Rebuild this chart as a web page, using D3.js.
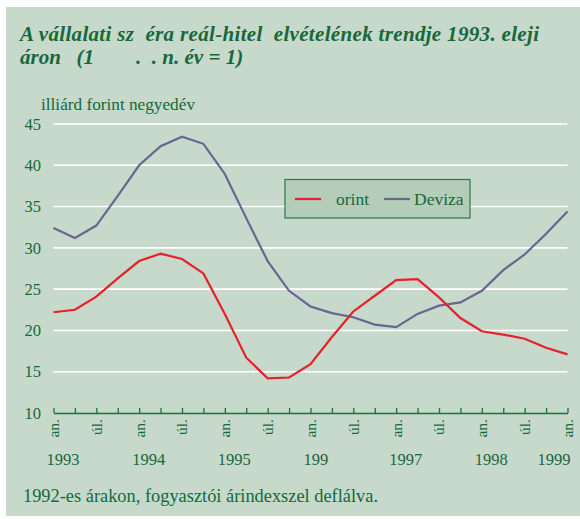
<!DOCTYPE html>
<html>
<head>
<meta charset="utf-8">
<script src="https://cdn.jsdelivr.net/npm/d3@7"></script>
<style>
  body { margin: 0; background: #fff; }
  text { font-family: "Liberation Serif", "Times New Roman", serif; fill: #17683b; }
</style>
</head>
<body>
<div id="root"></div>
<script>
//DATA
const quarters = d3.range(25); // 1993 jan .. 1999 jan, quarterly
const quarterLabels = ["an.", "", "úl.", "", "an.", "", "úl.", "", "an.", "", "úl.", "", "an.", "", "úl.", "", "an.", "", "úl.", "", "an.", "", "úl.", "", "an."];
const years = ["1993", "1994", "1995", "199", "1997", "1998", "1999"];
const forint = [22.2, 22.5, 24.1, 26.3, 28.4, 29.3, 28.65, 26.9, 22.0, 16.7, 14.2, 14.3, 15.9, 19.2, 22.3, 24.2, 26.1, 26.2, 24.0, 21.5, 19.9, 19.5, 19.0, 17.9, 17.1];
const deviza = [32.4, 31.2, 32.7, 36.3, 40.0, 42.3, 43.45, 42.6, 38.95, 33.6, 28.4, 24.8, 22.9, 22.1, 21.6, 20.7, 20.4, 22.0, 23.0, 23.4, 24.8, 27.3, 29.2, 31.7, 34.4];
const yTicks = [10, 15, 20, 25, 30, 35, 40, 45];

//DIMENSIONS
let width = 580, height = 519;

let svg = d3.select('#root')
  .append('svg')
  .attr('width', width)
  .attr('height', height);

//BACKGROUND PANEL
svg.append('rect')
  .attr('x', 6).attr('y', 7)
  .attr('width', width - 6).attr('height', 509)
  .attr('fill', '#c6d9ca');

//SCALES
const x = d3.scaleLinear().domain([0, 24]).range([53.5, 567.5]);
const y = d3.scaleLinear().domain([10, 45]).range([413, 124]);

//TITLE
const title = svg.append('text')
  .attr('xml:space', 'preserve')
  .style('white-space', 'pre')
  .attr('font-size', 21)
  .attr('font-weight', 'bold')
  .attr('font-style', 'italic');
title.append('tspan').attr('x', 20).attr('y', 41)
  .attr('textLength', 519)
  .text('A vállalati sz  éra reál-hitel  elvételének trendje 1993. eleji');
title.append('tspan').attr('x', 20).attr('y', 63.5)
  .text('áron   (1        .  . n. év = 1)');

//Y LABEL
svg.append('text')
  .attr('x', 41).attr('y', 110)
  .attr('font-size', 17.5)
  .attr('textLength', 154)
  .attr('lengthAdjust', 'spacingAndGlyphs')
  .text('illiárd forint negyedév');

//GRIDLINES
svg.append('g')
  .selectAll('line')
  .data(yTicks.filter(d => d > 10))
  .join('line')
  .attr('x1', x(0)).attr('x2', x(24))
  .attr('y1', d => y(d)).attr('y2', d => y(d))
  .attr('stroke', '#fff')
  .attr('stroke-width', 1.6);

//Y AXIS
const yAxis = svg.append('g')
  .attr('transform', 'translate(41,0)')
  .call(d3.axisLeft(y).tickValues(yTicks).tickSize(0).tickPadding(0));
yAxis.select('.domain').remove();
yAxis.selectAll('text')
  .attr('font-size', 16.5)
  .attr('font-family', null)
  .style('fill', '#17683b');

//X AXIS
const xAxis = svg.append('g')
  .attr('transform', `translate(0,${y(10)})`)
  .call(d3.axisBottom(x).tickValues(quarters).tickSize(-5).tickSizeOuter(0).tickFormat(''));
xAxis.select('.domain').attr('stroke', '#1d7042').attr('stroke-width', 1.3);
xAxis.selectAll('.tick line').attr('stroke', '#1d7042').attr('stroke-width', 1.3);

//QUARTER LABELS (ROTATED)
svg.append('g')
  .selectAll('text')
  .data(quarters.filter(i => quarterLabels[i] !== ''))
  .join('text')
  .attr('transform', i => `translate(${x(i)},419) rotate(-90)`)
  .attr('text-anchor', 'end')
  .attr('dy', '0.35em')
  .attr('font-size', 15.5)
  .text(i => quarterLabels[i]);

//YEAR LABELS
svg.append('g')
  .selectAll('text')
  .data(years)
  .join('text')
  .attr('x', (d, i) => i === years.length - 1 ? x(i * 4) + 3 : x(i * 4) - 7)
  .attr('y', 465)
  .attr('text-anchor', (d, i) => i === years.length - 1 ? 'end' : 'start')
  .attr('font-size', 16.5)
  .text(d => d);

//LINES
const line = d3.line()
  .x((d, i) => x(i))
  .y(d => y(d));

svg.append('path')
  .datum(deviza)
  .attr('fill', 'none')
  .attr('stroke', '#6a6591')
  .attr('stroke-width', 2.2)
  .attr('d', line);

svg.append('path')
  .datum(forint)
  .attr('fill', 'none')
  .attr('stroke', '#e8202a')
  .attr('stroke-width', 2.2)
  .attr('d', line);

//LEGEND
const legend = svg.append('g').attr('transform', 'translate(285,179.5)');
legend.append('rect')
  .attr('width', 185).attr('height', 38.5)
  .attr('fill', '#b3cdb8')
  .attr('stroke', '#2b7a4b')
  .attr('stroke-width', 1.2);
const items = [{name: 'orint', color: '#e8202a', x: 10, tx: 51}, {name: 'Deviza', color: '#6a6591', x: 99, tx: 129}];
items.forEach(it => {
  legend.append('line')
    .attr('x1', it.x).attr('x2', it.x + 26)
    .attr('y1', 19.5).attr('y2', 19.5)
    .attr('stroke', it.color).attr('stroke-width', 2.2);
  legend.append('text')
    .attr('x', it.tx).attr('y', 25.5)
    .attr('font-size', 17.5)
    .text(it.name);
});

//FOOTNOTE
svg.append('text')
  .attr('x', 23).attr('y', 502)
  .attr('font-size', 18.5)
  .attr('textLength', 355)
  .attr('lengthAdjust', 'spacingAndGlyphs')
  .text('1992-es árakon, fogyasztói árindexszel deflálva.');
</script>
</body>
</html>
